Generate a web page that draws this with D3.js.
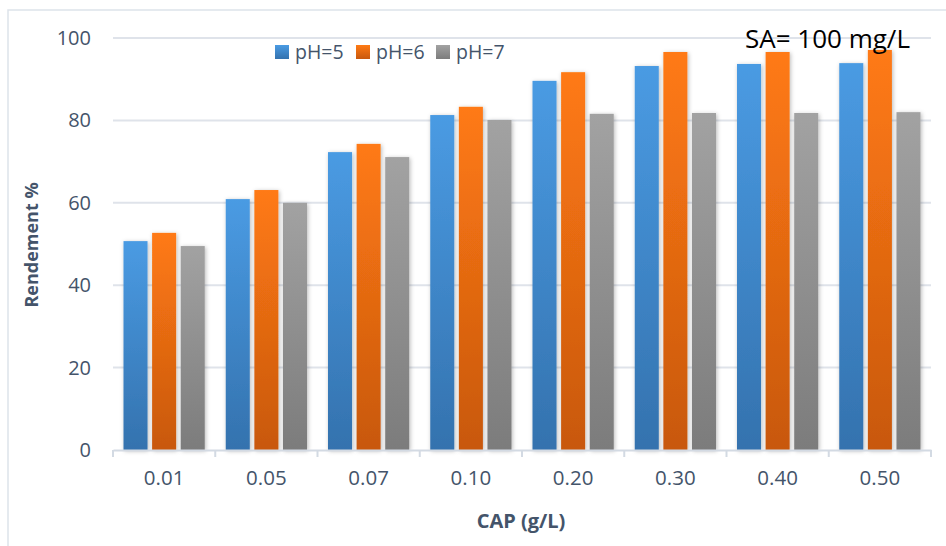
<!DOCTYPE html>
<html><head><meta charset="utf-8">
<script src="https://cdn.jsdelivr.net/npm/d3@7"></script>
<style>body{margin:0;background:#fff}svg{display:block}</style>
</head><body><svg id="c" width="946" height="546"></svg>
<script>
const categories = ["0.01","0.05","0.07","0.10","0.20","0.30","0.40","0.50"];
const seriesNames = ["pH=5","pH=6","pH=7"];
const ph5 = [50.7, 60.9, 72.3, 81.3, 89.6, 93.2, 93.7, 93.9];
const ph6 = [52.7, 63.1, 74.3, 83.3, 91.7, 96.6, 96.6, 97.1];
const ph7 = [49.5, 60.0, 71.1, 80.1, 81.6, 81.8, 81.8, 82.0];
const yTicks = [0, 20, 40, 60, 80, 100];
const seriesValues = [ph5, ph6, ph7];
const topColors = ["#4a9be3", "#ff7a14", "#a2a2a2"];
const botColors = ["#3472ae", "#c8580e", "#7c7c7c"];
const txt = "#44546a";
const font = "'Open Sans', sans-serif";

const svg = d3.select("#c");
const defs = svg.append("defs");
seriesNames.forEach((s,i)=>{
  const g = defs.append("linearGradient").attr("id","g"+i).attr("x1",0).attr("y1",0).attr("x2",0).attr("y2",1);
  g.append("stop").attr("offset","0%").attr("stop-color",topColors[i]);
  g.append("stop").attr("offset","100%").attr("stop-color",botColors[i]);
});
const f = defs.append("filter").attr("id","sh").attr("x","-30%").attr("y","-10%").attr("width","160%").attr("height","120%");
f.append("feDropShadow").attr("dx",1).attr("dy",1).attr("stdDeviation",2.2).attr("flood-color","#000").attr("flood-opacity",0.28);

svg.append("rect").attr("x",8).attr("y",10).attr("width",1000).attr("height",600)
  .attr("fill","#fff").attr("stroke","#dde3ea").attr("stroke-width",1.5);

const L = 113, R = 931, T = 38, B = 450;
const y = d3.scaleLinear().domain([0,100]).range([B,T]);
const x0 = d3.scaleBand().domain(categories).range([L,R]).padding(0);
const x1 = d3.scaleBand().domain(seriesNames).range([10.5, x0.bandwidth()-10.5]).paddingInner(0.16);

// gridlines
svg.append("g").selectAll("line").data(yTicks.filter(d=>d>0)).join("line")
  .attr("x1",L).attr("x2",R).attr("y1",d=>y(d)).attr("y2",d=>y(d))
  .attr("stroke","#dfe3ea").attr("stroke-width",2);

// y axis labels
const ya = svg.append("g").attr("transform",`translate(${L},0)`)
  .call(d3.axisLeft(y).tickValues(yTicks).tickSize(0).tickPadding(22));
ya.select(".domain").remove();
ya.selectAll("text").attr("font-family",font).attr("font-size",20).attr("fill",txt);

// bars
const groups = svg.append("g").selectAll("g").data(categories).join("g")
  .attr("transform",d=>`translate(${x0(d)},0)`);
groups.selectAll("rect").data((d,ci)=>seriesNames.map((s,si)=>({s,si,v:seriesValues[si][ci]}))).join("rect")
  .attr("x",d=>x1(d.s)).attr("width",x1.bandwidth())
  .attr("y",d=>y(d.v)).attr("height",d=>B-y(d.v))
  .attr("fill",d=>`url(#g${d.si})`).attr("filter","url(#sh)");

// x axis
const xa = svg.append("g").attr("transform",`translate(0,${B})`)
  .call(d3.axisBottom(x0).tickSize(0).tickPadding(20));
xa.select(".domain").attr("stroke","#d3dae3").attr("stroke-width",2);
xa.selectAll("text").attr("font-family",font).attr("font-size",20.5).attr("fill",txt);
const bounds = categories.map(c=>x0(c)).concat([R]);
xa.append("g").selectAll("line").data(bounds).join("line")
  .attr("x1",d=>d).attr("x2",d=>d).attr("y1",0).attr("y2",7)
  .attr("stroke","#d3dae3").attr("stroke-width",2);

// titles
svg.append("text").attr("x",521).attr("y",528).attr("text-anchor","middle")
  .attr("font-family",font).attr("font-weight","bold").attr("font-size",20).attr("fill",txt).text("CAP (g/L)");
svg.append("text").attr("transform","translate(38,245) rotate(-90)").attr("text-anchor","middle")
  .attr("font-family",font).attr("font-weight","bold").attr("font-size",18).attr("fill",txt).text("Rendement %");

// annotation
svg.append("text").attr("x",745).attr("y",48).attr("font-family","'Open Sans', sans-serif")
  .attr("font-size",26).attr("fill","#000").text("SA= 100 mg/L");

// legend
const lx = [275, 356, 436];
const lg = svg.append("g").selectAll("g").data(seriesNames).join("g")
  .attr("transform",(d,i)=>`translate(${lx[i]},45)`);
lg.append("rect").attr("width",14).attr("height",14).attr("fill",(d,i)=>`url(#g${i})`);
lg.append("text").attr("x",20).attr("y",13.5).attr("font-family",font).attr("font-size",19.5).attr("fill",txt).text(d=>d);
</script></body></html>
